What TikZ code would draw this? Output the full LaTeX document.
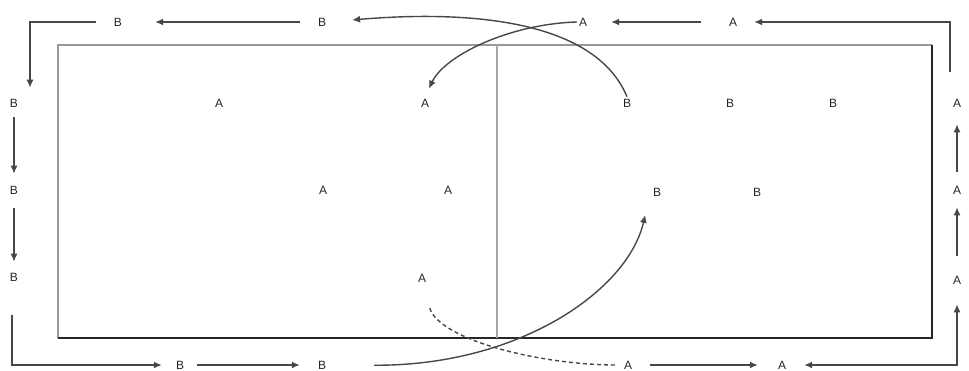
\documentclass[tikz,border=0pt]{standalone}
\usepackage{fontspec}
\setmainfont{Liberation Sans}
\usetikzlibrary{arrows.meta}
\begin{document}
\begin{tikzpicture}[x=1pt,y=-1pt,
  lbl/.style={inner sep=2pt,font=\fontsize{12}{13}\selectfont,text=black!85},
  conn/.style={draw=black!72,line width=1.4pt},
  arr/.style={conn,-{Latex[length=8pt,width=7pt]}},
  arrboth/.style={conn,{Latex[length=8pt,width=7pt]}-{Latex[length=8pt,width=7pt]}},
  dconn/.style={conn,dash pattern=on 4pt off 3pt}]
\useasboundingbox (0,0) rectangle (969,371);
% frame
\draw[black!40,line width=2.2pt] (58,338) -- (58,45) -- (932,45);
\draw[black!85,line width=2.2pt] (932,45) -- (932,338) -- (58,338);
\draw[black!35,line width=2.5pt] (497,45) -- (497,338);
% top row
\node[lbl] (tB1) at (118,22) {B};
\node[lbl] (tB2) at (322,22) {B};
\node[lbl] (tA1) at (583,22) {A};
\node[lbl] (tA2) at (733,22) {A};
% left column
\node[lbl] (lB1) at (14,103) {B};
\node[lbl] (lB2) at (14,190) {B};
\node[lbl] (lB3) at (14,277) {B};
% bottom row
\node[lbl] (bB1) at (180,365) {B};
\node[lbl] (bB2) at (322,365) {B};
\node[lbl] (bA1) at (628,365) {A};
\node[lbl] (bA2) at (782,365) {A};
% right column
\node[lbl] (rA1) at (957,103) {A};
\node[lbl] (rA2) at (957,190) {A};
\node[lbl] (rA3) at (957,280) {A};
% inside left
\node[lbl] (iA1) at (219,103) {A};
\node[lbl] (iA2) at (425,103) {A};
\node[lbl] (iA3) at (323,190) {A};
\node[lbl] (iA4) at (448,190) {A};
\node[lbl] (iA5) at (422,278) {A};
% inside right
\node[lbl] (iB1) at (627,103) {B};
\node[lbl] (iB2) at (730,103) {B};
\node[lbl] (iB3) at (833,103) {B};
\node[lbl] (iB4) at (657,192) {B};
\node[lbl] (iB5) at (757,192) {B};
% connectors
\draw[arr,shorten <=25pt,shorten >=15pt] ([xshift=-7pt]rA1.north) |- (tA2);
\draw[arr,shorten <=26pt,shorten >=22pt] (tA2) -- (tA1);
\draw[arr,shorten >=9pt] (tA1.west) .. controls (510,24) and (445,55) .. (iA2.north);
\draw[arr,shorten >=24pt] (iB1.north) .. controls (595,20) and (470,10) .. (tB2.east);
\draw[arr,shorten <=16pt,shorten >=31pt] (tB2) -- (tB1);
\draw[arr,shorten <=16pt,shorten >=9pt] (tB1) -| ([xshift=16pt]lB1.north);
\draw[arr,shorten <=8pt,shorten >=10pt] (lB1) -- (lB2);
\draw[arr,shorten <=12pt,shorten >=9pt] (lB2) -- (lB3);
\draw[arr,shorten <=32pt,shorten >=12pt] ([xshift=-2pt]lB3.south) |- (bB1);
\draw[arr,shorten <=11pt,shorten >=16pt] (bB1) -- (bB2);
\draw[arr,shorten <=46pt,shorten >=17pt] (bB2.east) .. controls (520,366) and (628,290) .. ([xshift=-8pt]iB4.south);
\draw[dconn,shorten <=25pt,shorten >=5pt] (iA5.south) .. controls (440,340) and (540,365) .. (bA1.west);
\draw[arr,shorten <=16pt,shorten >=18pt] (bA1) -- (bA2);
\draw[arrboth,shorten <=16pt,shorten >=18pt] (bA2) -| (rA3);
\draw[arr,shorten <=18pt,shorten >=11pt] (rA3) -- (rA2);
\draw[arr,shorten <=12pt,shorten >=15pt] (rA2) -- (rA1);
\end{tikzpicture}
\end{document}
